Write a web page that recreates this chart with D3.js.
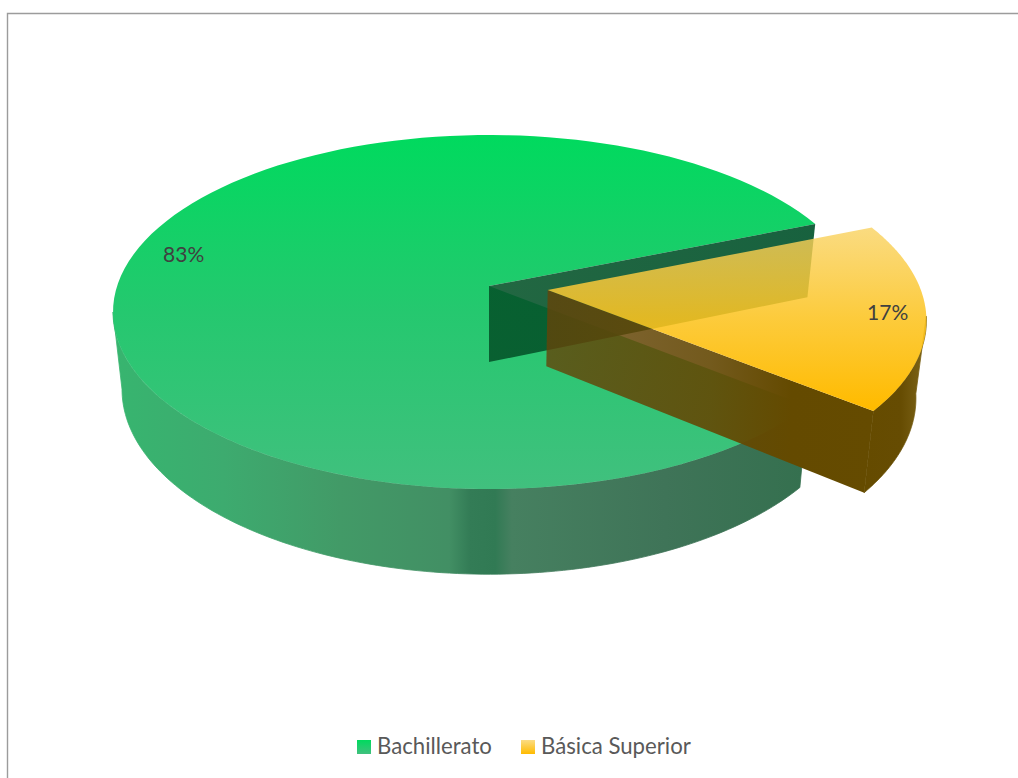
<!DOCTYPE html>
<html lang="es">
<head>
<meta charset="utf-8">
<title>Distribución por nivel</title>
<script src="https://cdn.jsdelivr.net/npm/d3@7/dist/d3.min.js"></script>
<style>
  html, body { margin: 0; padding: 0; background: #fff; }
  svg { display: block; }
  text { font-family: Lato, "Open Sans", sans-serif; }
</style>
</head>
<body>
<svg id="chart" width="1018" height="778"></svg>
<script>
// Chart values
const categories = ["Bachillerato", "Básica Superior"];
const shares = [83, 17];
const percentLabels = ["83%", "17%"];

// Layout of the tilted pie
const width = 1018, height = 778;
const firstSliceStart = 129 * Math.PI / 180;
const explodeByCategory = [0, 0.159];
const labelRadius = [0.845, 0.9];
const labelShiftY = [-12, -2];
const centerX = 489;
const tilt = 0.147;                                  // perspective strength
const topPlane = { y: 286, a: 371.9, r: 173.2 };     // upper face of the disc
const basePlane = { y: 362, a: 363, r: 181 };        // lower face of the disc

const svg = d3.select("#chart").attr("viewBox", [0, 0, width, height]);
const defs = svg.append("defs");

// Projects a disc coordinate (u right, v toward the viewer) onto a plane
const project = (plane, u, v) => {
  const w = 1 - tilt * v;
  return [centerX + plane.a * u / w, plane.y + plane.r * v / w];
};

const pie = d3.pie().sort(null).value(d => d)
  .startAngle(firstSliceStart)
  .endAngle(firstSliceStart + 2 * Math.PI);
const slices = pie(shares);

const polar = (angle, radius, explode, mid) => [
  radius * Math.sin(angle) + explode * Math.sin(mid),
  -radius * Math.cos(angle) - explode * Math.cos(mid)
];

const arcPoints = (plane, a0, a1, explode, mid) =>
  d3.range(0, 121).map(i => {
    const t = a0 + (a1 - a0) * i / 120;
    return project(plane, ...polar(t, 1, explode, mid));
  });

const line = d3.line();
const poly = pts => line(pts) + "Z";

// Gradient helper
function gradient(id, attrs, stops) {
  const g = defs.append("linearGradient").attr("id", id)
    .attr("gradientUnits", "userSpaceOnUse");
  Object.entries(attrs).forEach(([k, v]) => g.attr(k, v));
  g.selectAll("stop").data(stops).join("stop")
    .attr("offset", d => d[0])
    .attr("stop-color", d => d[1]);
}

gradient("greenTop", { x1: 0, x2: 0, y1: 135, y2: 489 }, [
  [0, "#00da5e"], [0.5, "#25c86f"], [1, "#41c07e"]
]);
gradient("greenSide", { x1: 113, x2: 803, y1: 0, y2: 0 }, [
  [0, "#37b56f"], [0.16, "#3dab6f"], [0.33, "#429a67"], [0.487, "#428f64"],
  [0.517, "#337c56"], [0.554, "#317a54"], [0.578, "#468060"],
  [0.8, "#3f7458"], [1, "#35704f"]
]);
gradient("greenNotch", { x1: 489, x2: 816, y1: 0, y2: 0 }, [
  [0, "rgba(4,82,40,0.88)"], [1, "rgba(4,84,46,0.92)"]
]);
gradient("yellowTop", { x1: 0, x2: 0, y1: 228, y2: 407 }, [
  [0, "rgba(249,210,96,0.8)"], [0.5, "rgba(252,196,33,0.88)"], [1, "rgba(255,187,0,1)"]
]);
gradient("yellowCut", { x1: 548, x2: 873, y1: 0, y2: 0 }, [
  [0, "rgba(100,67,8,0.8)"], [0.5, "rgba(100,72,4,0.9)"], [0.75, "rgba(100,74,0,1)"], [1, "rgba(101,75,0,1)"]
]);
gradient("yellowSide", { x1: 866, x2: 924, y1: 0, y2: 0 }, [
  [0, "#654b00"], [0.6, "#664c02"], [1, "#7d6418"]
]);
gradient("swatchGreen", { x1: 0, x2: 0, y1: 740, y2: 754 }, [[0, "#00da5e"], [1, "#41c07e"]]);
gradient("swatchYellow", { x1: 0, x2: 0, y1: 740, y2: 754 }, [[0, "#fbdc84"], [1, "#ffbb00"]]);

const [green, yellow] = slices;
const greenMid = (green.startAngle + green.endAngle) / 2;
const yellowMid = (yellow.startAngle + yellow.endAngle) / 2;
const silhouette = Math.PI - Math.acos(tilt);        // angle from the back where a face is widest
const leftEdge = 2 * Math.PI - silhouette;
const rightEdge = 2 * Math.PI + silhouette;          // same turn as the slice angles of the second slice

// Chart frame, open on the right and at the bottom
svg.append("path").attr("d", line([[7.5, height], [7.5, 13.5], [width, 13.5]]))
  .attr("fill", "none").attr("stroke", "#9c9c9c").attr("stroke-width", 1.4);

const pieLayer = svg.append("g");

// Outer wall of the large slice
pieLayer.append("path")
  .attr("d", poly([
    ...arcPoints(topPlane, green.startAngle, leftEdge, 0, greenMid),
    ...arcPoints(basePlane, green.startAngle, leftEdge, 0, greenMid).reverse()
  ]))
  .attr("fill", "url(#greenSide)")
  .attr("stroke", "url(#greenSide)")
  .attr("stroke-width", 0.8)
  .attr("stroke-linejoin", "round");

// Upper face of the large slice
pieLayer.append("path")
  .attr("d", poly([
    project(topPlane, 0, 0),
    ...arcPoints(topPlane, green.startAngle, green.endAngle, 0, greenMid)
  ]))
  .attr("fill", "url(#greenTop)");

// Cut wall at the far side of the notch
const notchEnd = polar(green.endAngle, 1, 0, greenMid);
pieLayer.append("path")
  .attr("d", poly([
    project(topPlane, 0, 0), project(topPlane, ...notchEnd),
    project(basePlane, ...notchEnd), project(basePlane, 0, 0)
  ]))
  .attr("fill", "url(#greenNotch)");

// Outer wall of the pulled-out slice
const explode = explodeByCategory[1];
pieLayer.append("path")
  .attr("d", poly([
    ...arcPoints(topPlane, rightEdge, yellow.endAngle, explode, yellowMid),
    ...arcPoints(basePlane, rightEdge, yellow.endAngle, explode, yellowMid).reverse()
  ]))
  .attr("fill", "url(#yellowSide)")
  .attr("stroke", "url(#yellowSide)")
  .attr("stroke-width", 0.8)
  .attr("stroke-linejoin", "round");

// Cut wall facing the viewer
const yellowApex = polar(0, 0, explode, yellowMid);
const yellowEnd = polar(yellow.endAngle, 1, explode, yellowMid);
pieLayer.append("path")
  .attr("d", poly([
    project(topPlane, ...yellowApex), project(topPlane, ...yellowEnd),
    project(basePlane, ...yellowEnd), project(basePlane, ...yellowApex)
  ]))
  .attr("fill", "url(#yellowCut)");

// Upper face of the pulled-out slice
pieLayer.append("path")
  .attr("d", poly([
    project(topPlane, ...yellowApex),
    ...arcPoints(topPlane, yellow.startAngle, yellow.endAngle, explode, yellowMid)
  ]))
  .attr("fill", "url(#yellowTop)");

// Percentage labels
svg.append("g").selectAll("text").data(slices).join("text")
  .attr("x", (d, i) => {
    const mid = (d.startAngle + d.endAngle) / 2;
    return project(topPlane, ...polar(mid, labelRadius[i], explodeByCategory[i], mid))[0];
  })
  .attr("y", (d, i) => {
    const mid = (d.startAngle + d.endAngle) / 2;
    return project(topPlane, ...polar(mid, labelRadius[i], explodeByCategory[i], mid))[1] + labelShiftY[i];
  })
  .attr("text-anchor", "middle")
  .attr("dominant-baseline", "central")
  .attr("font-size", 21)
  .attr("fill", "#404040")
  .text((d, i) => percentLabels[i]);

// Legend
const legendX = d3.scaleOrdinal().domain(categories).range([357, 521]);
const swatchFill = d3.scaleOrdinal().domain(categories).range(["url(#swatchGreen)", "url(#swatchYellow)"]);
const legend = svg.append("g").selectAll("g").data(categories).join("g")
  .attr("transform", d => `translate(${legendX(d)},0)`);
legend.append("rect")
  .attr("y", 740).attr("width", 14).attr("height", 14)
  .attr("fill", d => swatchFill(d));
legend.append("text")
  .attr("x", 20).attr("y", 754)
  .attr("font-size", 22.2)
  .attr("fill", "#595959")
  .text(d => d);
</script>
</body>
</html>
